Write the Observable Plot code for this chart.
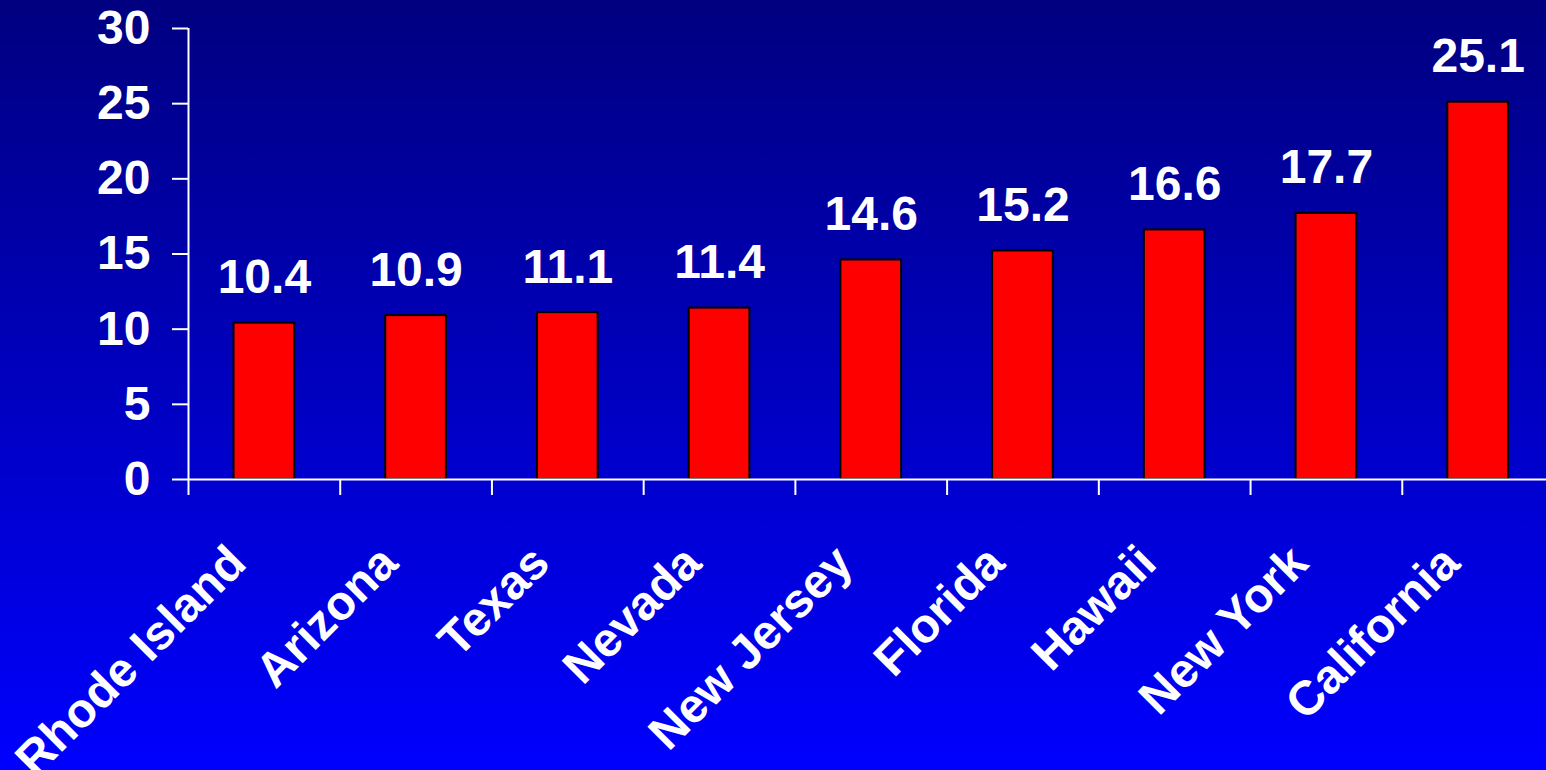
<!DOCTYPE html>
<html>
<head>
<meta charset="utf-8">
<script src="https://cdn.jsdelivr.net/npm/d3@7"></script>
<script src="https://cdn.jsdelivr.net/npm/@observablehq/plot@0.6"></script>
<style>
  html, body { margin: 0; padding: 0; }
  body { width: 1546px; height: 770px; overflow: hidden;
         background: linear-gradient(to bottom, #000080 0%, #0000FF 100%); }
  #chart svg { display: block; background: transparent; }
</style>
</head>
<body>
<div id="chart"></div>
<script>
const categories = ["Rhode Island", "Arizona", "Texas", "Nevada", "New Jersey", "Florida", "Hawaii", "New York", "California"];
const values = [10.4, 10.9, 11.1, 11.4, 14.6, 15.2, 16.6, 17.7, 25.1];
const yTicks = [0, 5, 10, 15, 20, 25, 30];

const rows = categories.map((c, i) => ({category: c, value: values[i], index: i}));
const xEdges = d3.range(categories.length + 1);

const font = "'Liberation Sans', Arial, Helvetica, sans-serif";

const chart = Plot.plot({
  width: 1546,
  height: 770,
  marginTop: 28,
  marginBottom: 291,
  marginLeft: 188,
  marginRight: 0,
  style: {background: "transparent", fontFamily: font, color: "white", overflow: "visible"},
  x: {type: "linear", domain: [0, categories.length], range: [188, 1553.5]},
  y: {domain: [0, 30]},
  marks: [
    Plot.rectY(rows, {
      x1: d => d.index + 0.3,
      x2: d => d.index + 0.7,
      y: "value",
      fill: "#FF0000",
      stroke: "black",
      strokeWidth: 2
    }),
    Plot.ruleX([0], {y1: 0, y2: 30, stroke: "white", strokeWidth: 2}),
    Plot.ruleY([0], {x1: 0, x2: categories.length, stroke: "white", strokeWidth: 2}),
    Plot.axisY({
      ticks: yTicks,
      tickSize: 16,
      tickPadding: 22,
      tickFormat: d => String(d),
      fontSize: 48,
      fontWeight: "bold",
      fill: "white",
      stroke: "white",
      strokeWidth: 2,
      label: null
    }),
    Plot.axisX({
      ticks: xEdges,
      tickSize: 16,
      tickFormat: () => "",
      stroke: "white",
      strokeWidth: 2,
      label: null
    }),
    Plot.text(rows, {
      x: d => d.index + 0.5,
      y: "value",
      text: d => d.value.toFixed(1),
      lineAnchor: "bottom",
      dy: -30,
      fill: "white",
      fontSize: 48,
      fontWeight: "bold"
    }),
    Plot.text(rows, {
      x: d => d.index + 0.5,
      y: 0,
      text: "category",
      rotate: -45,
      textAnchor: "end",
      lineAnchor: "bottom",
      dx: -16,
      dy: 86,
      fill: "white",
      fontSize: 48,
      fontWeight: "bold"
    })
  ]
});
document.getElementById("chart").append(chart);
</script>
</body>
</html>
